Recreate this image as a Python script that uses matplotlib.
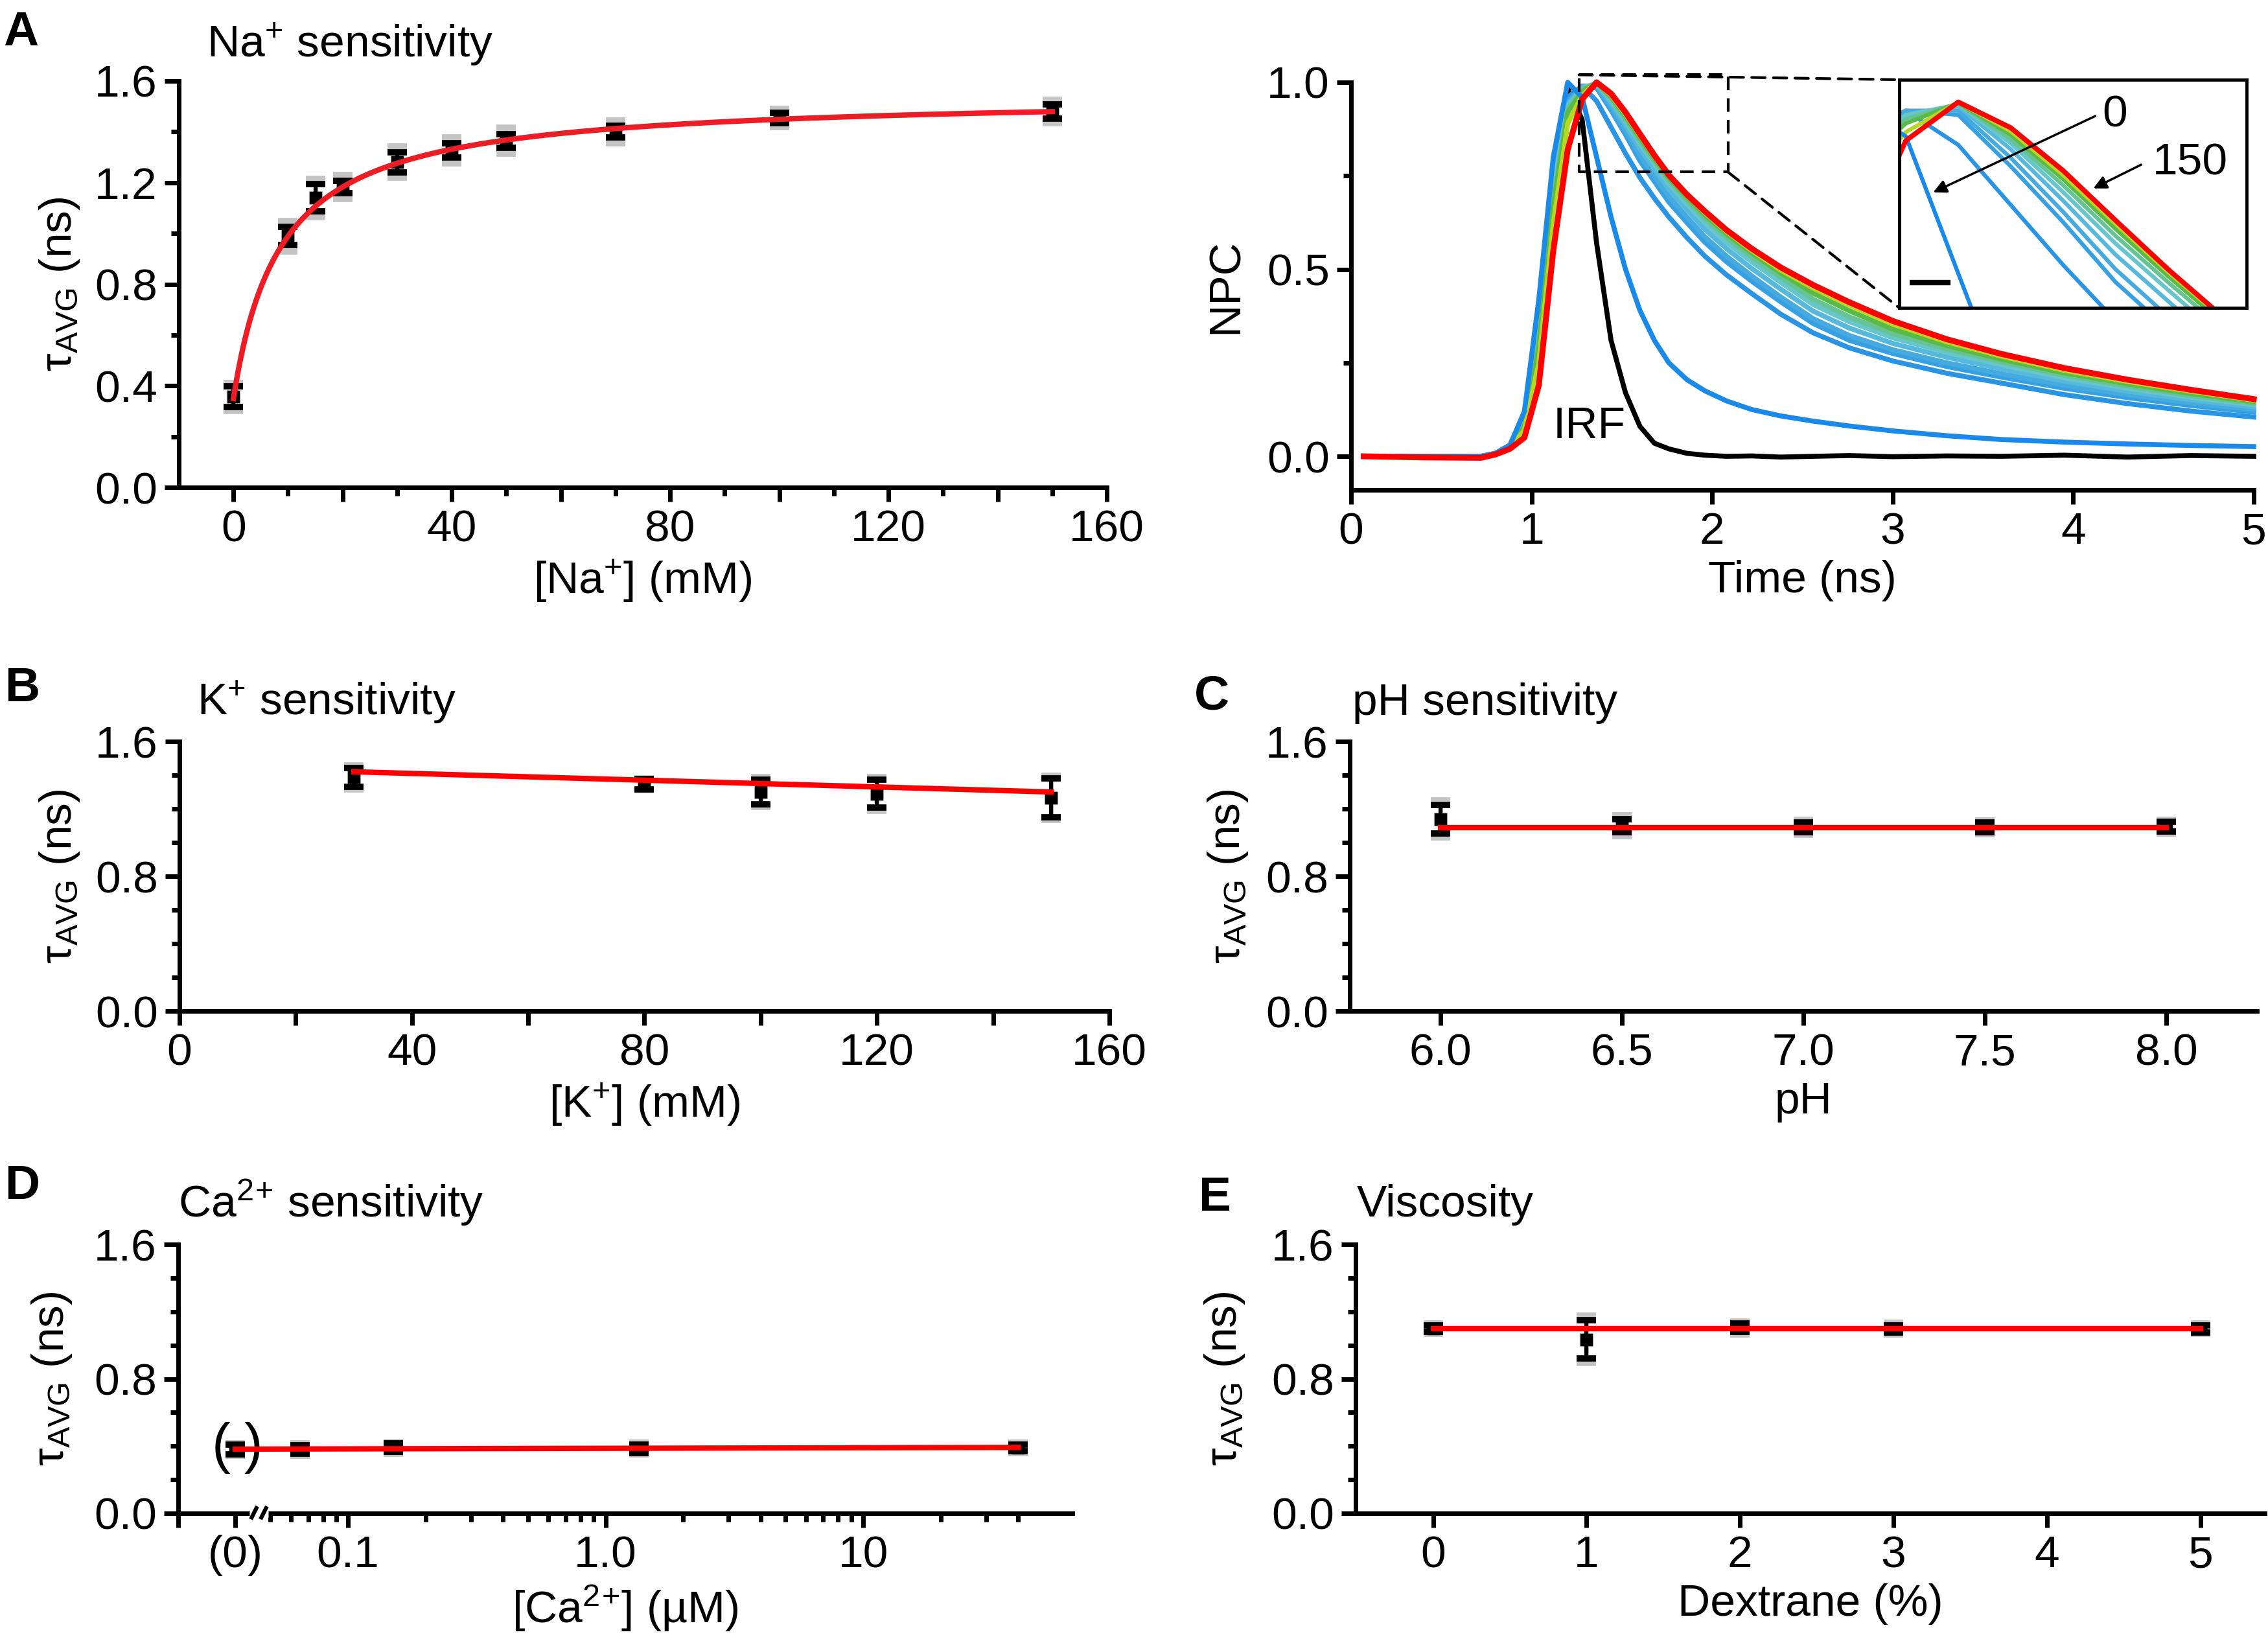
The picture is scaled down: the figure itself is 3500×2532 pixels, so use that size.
import numpy as np
import matplotlib
matplotlib.use("Agg")
import matplotlib.pyplot as plt
from matplotlib.patches import ConnectionPatch
from matplotlib.ticker import FixedLocator, NullFormatter

plt.rcParams['font.family'] = ['Liberation Sans', 'DejaVu Sans']
plt.rcParams['mathtext.fontset'] = 'custom'
plt.rcParams['mathtext.rm'] = 'Liberation Sans'
plt.rcParams['mathtext.it'] = 'Liberation Sans:italic'
plt.rcParams['mathtext.bf'] = 'Liberation Sans:bold'

FS = 50

# ---------------- data ----------------
# A: Na+ sensitivity
na_mM = [0, 10, 15, 20, 30, 40, 50, 70, 100, 150]
na_tau = [0.357, 0.99, 1.14, 1.183, 1.28, 1.327, 1.365, 1.40, 1.455, 1.48]
na_sem = [0.04, 0.035, 0.053, 0.024, 0.04, 0.029, 0.027, 0.023, 0.02, 0.027]
na_spread = [0.055, 0.06, 0.075, 0.048, 0.061, 0.05, 0.05, 0.045, 0.035, 0.045]
# hyperbolic fit parameters (tau0, delta tau, Kd in mM)
na_fit_tau0, na_fit_dtau, na_fit_kd = 0.35, 1.195, 8.7

# A right: normalized photon counts (NPC) vs time
t_ns = [0.07, 0.4, 0.72, 0.80, 0.88, 0.96, 1.04, 1.12, 1.20, 1.28, 1.36, 1.44,
        1.52, 1.60, 1.68, 1.76, 1.86, 1.96, 2.08, 2.22, 2.38, 2.56, 2.76, 3.0,
        3.3, 3.6, 3.95, 4.3, 4.65, 5.0]
npc_irf = [0.0, 0.0, 0.0, 0.005, 0.025, 0.05, 0.30, 0.75, 0.985, 0.90, 0.57, 0.31,
           0.17, 0.08, 0.035, 0.02, 0.008, 0.003, 0.0, 0.001, -0.002, 0.0, 0.002, -0.001,
           0.001, 0.0, 0.003, -0.002, 0.002, 0.0]
npc_curves = {
    0: [0.0, 0.0, 0.0, 0.008, 0.03, 0.12, 0.42, 0.80, 1.0, 0.96, 0.80, 0.64,
        0.50, 0.39, 0.31, 0.25, 0.205, 0.175, 0.148, 0.125, 0.108, 0.094, 0.081, 0.068,
        0.055, 0.045, 0.038, 0.033, 0.029, 0.026],
    10: [0.0, 0.0, 0.0, 0.008, 0.03, 0.11, 0.38, 0.76, 0.96, 0.99, 0.95, 0.88,
         0.81, 0.745, 0.69, 0.64, 0.585, 0.535, 0.485, 0.435, 0.38, 0.33, 0.29, 0.255,
         0.222, 0.196, 0.165, 0.141, 0.121, 0.105],
    15: [0.0, 0.0, 0.0, 0.008, 0.03, 0.105, 0.36, 0.74, 0.95, 0.99, 0.985, 0.925,
         0.86, 0.79, 0.735, 0.68, 0.625, 0.572, 0.52, 0.468, 0.413, 0.355, 0.31, 0.275,
         0.24, 0.212, 0.182, 0.157, 0.136, 0.118],
    20: [0.0, 0.0, 0.0, 0.007, 0.028, 0.10, 0.35, 0.73, 0.945, 0.99, 0.99, 0.935,
         0.872, 0.805, 0.75, 0.695, 0.64, 0.587, 0.535, 0.482, 0.426, 0.368, 0.323, 0.285,
         0.25, 0.221, 0.19, 0.165, 0.143, 0.125],
    30: [0.0, 0.0, 0.0, 0.007, 0.027, 0.095, 0.34, 0.72, 0.94, 0.985, 0.995, 0.945,
         0.885, 0.822, 0.768, 0.714, 0.66, 0.607, 0.555, 0.502, 0.447, 0.388, 0.343, 0.302,
         0.265, 0.234, 0.201, 0.174, 0.151, 0.132],
    40: [0.0, 0.0, 0.0, 0.007, 0.026, 0.09, 0.33, 0.71, 0.935, 0.985, 0.997, 0.952,
         0.895, 0.835, 0.781, 0.728, 0.675, 0.624, 0.572, 0.52, 0.465, 0.406, 0.36, 0.317,
         0.278, 0.245, 0.21, 0.182, 0.158, 0.138],
    50: [0.0, 0.0, 0.0, 0.006, 0.025, 0.085, 0.31, 0.69, 0.93, 0.98, 0.998, 0.957,
         0.903, 0.844, 0.79, 0.738, 0.686, 0.636, 0.585, 0.533, 0.479, 0.42, 0.373, 0.328,
         0.287, 0.253, 0.217, 0.188, 0.163, 0.142],
    70: [0.0, 0.0, 0.0, 0.006, 0.024, 0.08, 0.29, 0.67, 0.92, 0.975, 0.999, 0.962,
         0.91, 0.852, 0.797, 0.745, 0.694, 0.645, 0.595, 0.544, 0.49, 0.436, 0.389, 0.34,
         0.296, 0.26, 0.223, 0.194, 0.168, 0.146],
    100: [0.0, 0.0, 0.0, 0.006, 0.022, 0.07, 0.25, 0.62, 0.89, 0.965, 1.0, 0.966,
          0.915, 0.858, 0.802, 0.75, 0.698, 0.651, 0.601, 0.55, 0.498, 0.45, 0.404, 0.354,
          0.306, 0.268, 0.23, 0.2, 0.174, 0.15],
    150: [0.0, -0.003, -0.004, 0.005, 0.02, 0.05, 0.19, 0.55, 0.82, 0.955, 1.0, 0.97,
          0.92, 0.862, 0.805, 0.752, 0.70, 0.655, 0.605, 0.555, 0.505, 0.458, 0.412, 0.362,
          0.313, 0.274, 0.236, 0.205, 0.178, 0.153],
}
npc_colors = {0: '#1a8aea', 10: '#2a94e4', 15: '#37a0e2', 20: '#45aadf',
              30: '#55b8dc', 40: '#66c6cc', 50: '#66c494', 70: '#5aba48',
              100: '#b6d820', 150: '#ff0000'}

# B: K+ sensitivity
k_mM = [30, 80, 100, 120, 150]
k_tau = [1.387, 1.346, 1.30, 1.29, 1.265]
k_sem = [0.055, 0.03, 0.074, 0.083, 0.115]
k_spread = [0.07, 0.035, 0.09, 0.10, 0.13]
k_fit_x = [30, 150]
k_fit_y = [1.42, 1.30]

# C: pH sensitivity
ph = [6.0, 6.5, 7.0, 7.5, 8.0]
ph_tau = [1.14, 1.10, 1.09, 1.09, 1.095]
ph_sem = [0.085, 0.04, 0.03, 0.03, 0.03]
ph_spread = [0.11, 0.06, 0.045, 0.04, 0.04]
ph_fit_x = [6.0, 8.0]
ph_fit_y = [1.088, 1.088]

# D: Ca2+ sensitivity (first point is 0 uM, drawn at a stand-in position)
ca_zero_pos = 0.0365
ca_uM = [ca_zero_pos, 0.065, 0.15, 1.35, 40]
ca_tau = [0.38, 0.38, 0.39, 0.385, 0.39]
ca_sem = [0.03, 0.025, 0.025, 0.025, 0.02]
ca_spread = [0.035, 0.035, 0.035, 0.035, 0.03]
ca_fit_x = [ca_zero_pos, 40]
ca_fit_y = [0.382, 0.392]

# E: viscosity
dex = [0, 1, 2, 3, 5]
dex_tau = [1.098, 1.034, 1.103, 1.098, 1.098]
dex_sem = [0.02, 0.113, 0.025, 0.022, 0.022]
dex_spread = [0.03, 0.14, 0.04, 0.035, 0.03]
dex_fit_x = [0, 5]
dex_fit_y = [1.098, 1.098]

# ---------------- figure ----------------
W, H = 3500, 2532
fig = plt.figure(figsize=(W / 100, H / 100), dpi=100)


def add_ax(l, r, t, b):
    return fig.add_axes([l / W, 1 - b / H, (r - l) / W, (b - t) / H])


def style(ax):
    for s in ['top', 'right']:
        ax.spines[s].set_visible(False)
    for s in ['left', 'bottom']:
        ax.spines[s].set_linewidth(5)
        ax.spines[s].set_capstyle('projecting')
    ax.tick_params(which='major', length=16, width=5, labelsize=FS, pad=8)
    ax.tick_params(which='minor', length=9, width=5)


def tau_axis(ax, major, labels):
    ax.set_ylim(0, 1.6)
    ax.yaxis.set_major_locator(FixedLocator(major))
    ax.set_yticklabels(labels)
    ax.yaxis.set_minor_locator(FixedLocator(np.arange(0, 1.61, 0.2)))
    ax.set_ylabel(r'τ$_{\mathrm{AVG}}$ (ns)', fontsize=FS)


def points(ax, x, y, sem, spread):
    ax.errorbar(x, y, yerr=spread, fmt='s', color='#c4c4c4', ms=14, capsize=11,
                elinewidth=5, capthick=7, zorder=2, clip_on=False)
    ax.errorbar(x, y, yerr=sem, fmt='s', color='black', ms=13, capsize=11,
                elinewidth=4.5, capthick=7, zorder=3, clip_on=False)


# --- A ---
axA = add_ax(276, 1708, 125, 752)
style(axA)
points(axA, na_mM, na_tau, na_sem, na_spread)
xf = np.linspace(0, max(na_mM), 400)
axA.plot(xf, na_fit_tau0 + na_fit_dtau * xf / (na_fit_kd + xf), color='#ee1c24', lw=6, zorder=4)
axA.set_xlim(-10, 160)
axA.xaxis.set_major_locator(FixedLocator(np.arange(0, 161, 20)))
axA.set_xticklabels(['0', '', '40', '', '80', '', '120', '', '160'])
axA.xaxis.set_minor_locator(FixedLocator(np.arange(10, 160, 20)))
tau_axis(axA, [0, 0.4, 0.8, 1.2, 1.6], ['0.0', '0.4', '0.8', '1.2', '1.6'])
axA.set_xlabel('[Na$^{+}$] (mM)', fontsize=FS, labelpad=8)

# --- NPC decays ---
axN = add_ax(2085, 3478, 127, 756)
style(axN)
axN.plot(t_ns, npc_irf, color='black', lw=5.5, zorder=2, clip_on=False)
for conc in [10, 15, 20, 30, 40, 50, 70, 100, 0, 150]:
    axN.plot(t_ns, npc_curves[conc], color=npc_colors[conc], lw=5.5 if conc != 150 else 6.5,
             zorder=3, clip_on=False)
axN.set_xlim(0, 5)
axN.set_ylim(-0.09, 1.0)
axN.xaxis.set_major_locator(FixedLocator([0, 1, 2, 3, 4, 5]))
axN.yaxis.set_major_locator(FixedLocator([0, 0.5, 1.0]))
axN.set_yticklabels(['0.0', '0.5', '1.0'])
axN.yaxis.set_minor_locator(FixedLocator([0.25, 0.75]))
axN.set_xlabel('Time (ns)', fontsize=FS, labelpad=8)
axN.set_ylabel('NPC', fontsize=FS)
axN.text(1.32, 0.08, 'IRF', fontsize=FS, ha='center', va='center')

# zoom box and inset
zx0, zx1, zy0, zy1 = 1.262, 2.088, 0.76, 1.02
axN.plot([zx0, zx1, zx1, zx0, zx0], [zy1, zy1, zy0, zy0, zy1], color='black', lw=3,
         ls=(0, (5, 3)), clip_on=False, zorder=5)
axI = add_ax(2931, 3467, 123, 475)
for conc in [10, 15, 20, 30, 40, 50, 70, 100, 0, 150]:
    axI.plot(t_ns, npc_curves[conc], color=npc_colors[conc], lw=4.5 if conc != 150 else 5.5)
axI.set_xlim(1.27, 1.80)
axI.set_ylim(0.76, 1.026)
axI.set_xticks([])
axI.set_yticks([])
for s in axI.spines.values():
    s.set_linewidth(3.5)
axI.plot([0.03, 0.147], [0.11, 0.11], color='black', lw=6, transform=axI.transAxes,
         solid_capstyle='butt')
axI.annotate('', xy=(0.093, 0.503), xytext=(0.569, 0.844), xycoords='axes fraction',
             arrowprops=dict(arrowstyle='-|>', lw=2.5, color='black', mutation_scale=30))
axI.text(0.62, 0.844, '0', fontsize=FS, ha='center', va='center', transform=axI.transAxes)
axI.annotate('', xy=(0.554, 0.52), xytext=(0.701, 0.631), xycoords='axes fraction',
             arrowprops=dict(arrowstyle='-|>', lw=2.5, color='black', mutation_scale=30))
axI.text(0.837, 0.636, '150', fontsize=FS, ha='center', va='center', transform=axI.transAxes)
for xyA, xyB in [((zx0, zy1), (0, 1)), ((zx1, zy0), (0, 0))]:
    con = ConnectionPatch(xyA=xyA, coordsA=axN.transData, xyB=xyB, coordsB=axI.transAxes,
                          color='black', lw=3, ls=(0, (5, 3)))
    fig.add_artist(con)

# --- B ---
axB = add_ax(277, 1712, 1144, 1560)
style(axB)
points(axB, k_mM, k_tau, k_sem, k_spread)
axB.plot(k_fit_x, k_fit_y, color='#ff0000', lw=6, zorder=4)
axB.set_xlim(0, 160)
axB.xaxis.set_major_locator(FixedLocator(np.arange(0, 161, 20)))
axB.set_xticklabels(['0', '', '40', '', '80', '', '120', '', '160'])
tau_axis(axB, [0, 0.8, 1.6], ['0.0', '0.8', '1.6'])
axB.set_xlabel('[K$^{+}$] (mM)', fontsize=FS, labelpad=8)

# --- C ---
axC = add_ax(2083, 3483, 1144, 1560)
style(axC)
points(axC, ph, ph_tau, ph_sem, ph_spread)
axC.plot(ph_fit_x, ph_fit_y, color='#ff0000', lw=6, zorder=4)
axC.set_xlim(5.75, 8.25)
axC.xaxis.set_major_locator(FixedLocator(ph))
axC.set_xticklabels(['6.0', '6.5', '7.0', '7.5', '8.0'])
tau_axis(axC, [0, 0.8, 1.6], ['0.0', '0.8', '1.6'])
axC.set_xlabel('pH', fontsize=FS, labelpad=8)

# --- D ---
axD = add_ax(275, 1655, 1920, 2335)
style(axD)
axD.set_xscale('log')
axD.set_xlim(0.0219, 65)
points(axD, ca_uM, ca_tau, ca_sem, ca_spread)
axD.plot(ca_fit_x, ca_fit_y, color='#ff0000', lw=6, zorder=4)
axD.xaxis.set_major_locator(FixedLocator([0.0219, ca_zero_pos, 0.1, 1, 10]))
axD.set_xticklabels(['', '(0)', '0.1', '1.0', '10'])
ca_minor = [0.05, 0.06, 0.07, 0.08, 0.09, 0.2, 0.3, 0.4, 0.5, 0.6, 0.7, 0.8, 0.9,
            2, 3, 4, 5, 6, 7, 8, 9, 20, 30, 40]
axD.xaxis.set_minor_locator(FixedLocator(ca_minor))
axD.xaxis.set_minor_formatter(NullFormatter())
tau_axis(axD, [0, 0.8, 1.6], ['0.0', '0.8', '1.6'])
axD.set_xlabel('[Ca$^{2}$$^{+}$] (µM)', fontsize=FS, labelpad=8)
# parentheses round the 0 uM point
axD.annotate('(', xy=(ca_uM[0], ca_tau[0]), xytext=(-16, 2), textcoords='offset points',
             fontsize=62, ha='center', va='center')
axD.annotate(')', xy=(ca_uM[0], ca_tau[0]), xytext=(20, 2), textcoords='offset points',
             fontsize=62, ha='center', va='center')
# axis break
axD.plot([0.0797, 0.1007], [0, 0], color='white', lw=9, transform=axD.transAxes,
         clip_on=False, zorder=6, solid_capstyle='butt')
for x0 in [0.0812, 0.092]:
    axD.plot([x0, x0 + 0.0072], [-0.022, 0.026], color='black', lw=4.5,
             transform=axD.transAxes, clip_on=False, zorder=7, solid_capstyle='butt')

# --- E ---
axE = add_ax(2092, 3495, 1920, 2335)
style(axE)
points(axE, dex, dex_tau, dex_sem, dex_spread)
axE.plot(dex_fit_x, dex_fit_y, color='#ff0000', lw=6, zorder=4)
axE.set_xlim(-0.505, 5.42)
axE.xaxis.set_major_locator(FixedLocator([0, 1, 2, 3, 4, 5]))
tau_axis(axE, [0, 0.8, 1.6], ['0.0', '0.8', '1.6'])
axE.set_xlabel('Dextrane (%)', fontsize=FS, labelpad=8)

# y label placement
for ax, xc in [(axA, -0.105), (axB, -0.105), (axC, -0.11), (axD, -0.117),
               (axE, -0.12), (axN, -0.116)]:
    ax.yaxis.set_label_coords(xc, 0.5)

# titles and panel letters
for txt, x, y in [('Na$^{+}$ sensitivity', 319, 88), ('K$^{+}$ sensitivity', 304, 1103),
                  ('pH sensitivity', 2087, 1103), ('Ca$^{2}$$^{+}$ sensitivity', 275, 1878),
                  ('Viscosity', 2094, 1877)]:
    fig.text(x / W, 1 - y / H, txt, fontsize=FS, ha='left', va='baseline')
for txt, x, y in [('A', 5, 70), ('B', 8, 1082), ('C', 1843, 1095), ('D', 8, 1850),
                  ('E', 1850, 1868)]:
    fig.text(x / W, 1 - y / H, txt, fontsize=54, fontweight='bold', ha='left', va='baseline')

fig.savefig('out.png', dpi=100)
